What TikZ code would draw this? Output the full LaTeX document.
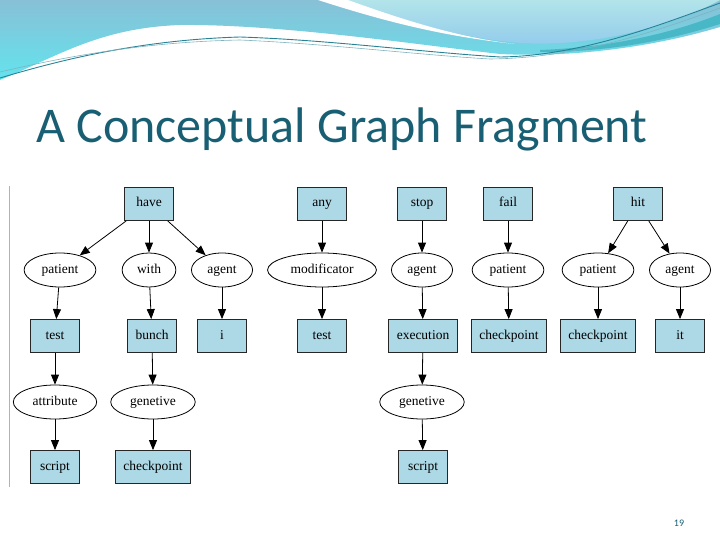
\documentclass[tikz,border=0pt]{standalone}
\usepackage{fontspec}
\setmainfont{Liberation Serif}
\newfontfamily\titlefont{Carlito}
\usetikzlibrary{arrows.meta,shapes.geometric}
\definecolor{mTitle}{RGB}{25,95,115}
\definecolor{mBox}{RGB}{173,216,230}
\definecolor{mWaveTop}{RGB}{136,192,214}
\definecolor{mWaveBot}{RGB}{98,228,238}
\definecolor{mLensTop}{RGB}{178,228,234}
\definecolor{mLensBot}{RGB}{145,202,236}
\definecolor{mLine}{RGB}{40,130,150}
\tikzset{
    concept/.style={draw=black!85, fill=mBox, line width=0.8pt, inner xsep=8pt,
        minimum width=49pt, minimum height=33pt, text height=9pt, text depth=3pt,
        font=\fontsize{13.5}{15}\selectfont},
    relation/.style={ellipse, draw=black, fill=white, line width=0.8pt, inner xsep=7pt,
        minimum height=34pt, text height=9pt, text depth=3pt,
        font=\fontsize{13.5}{15}\selectfont},
    arc/.style={-{Triangle[length=10pt,width=8pt]}, line width=0.8pt, black}
}

\begin{document}
\begin{tikzpicture}[x=1pt, y=-1pt]
    \useasboundingbox (0,0) rectangle (720,540);
    % header wave
    \shade[top color=mWaveTop, bottom color=mWaveBot]
        (0,0) -- (0,80) .. controls (60,55) and (100,28) .. (180,25)
        .. controls (280,24) and (420,45) .. (500,54)
        .. controls (580,58) and (660,45) .. (720,27) -- (720,0) -- cycle;
    \shade[top color=mLensTop, bottom color=mLensBot]
        (345,0) .. controls (400,20) and (460,38) .. (520,43)
        .. controls (600,48) and (680,22) .. (720,0) -- cycle;
    \fill[white] (318,0) .. controls (380,20) and (440,36) .. (515,44)
        .. controls (455,37) and (398,18) .. (348,0) -- cycle;
    \fill[mLine!45!mWaveBot] (540,50) .. controls (620,47) and (680,30) .. (720,14)
        -- (720,24) .. controls (670,40) and (610,52) .. (540,52) -- cycle;
    \draw[mLine, line width=0.9pt]
        (0,78) .. controls (60,60) and (140,40) .. (240,37)
        .. controls (330,40) and (420,52) .. (500,57)
        .. controls (580,56) and (660,25) .. (720,3);
    \draw[mLine!60, line width=0.6pt]
        (0,72) .. controls (60,58) and (140,42) .. (240,40)
        .. controls (330,44) and (420,55) .. (490,59)
        .. controls (580,58) and (660,30) .. (720,8);
    % title and page number
    \node[anchor=base west, inner sep=0pt, text=mTitle, font=\titlefont\fontsize{50}{54}\selectfont]
        (title) at (36,143) {A Conceptual Graph Fragment};
    \node[text=mTitle, font=\titlefont\fontsize{10}{12}\selectfont] (page) at (679,523) {19};
    % frame of the graph image
    \draw[black!30, line width=0.8pt] (9,186) -- (9,487);
    % concepts, first row
    \node[concept] (have) at (149,204) {have};
    \node[concept] (any)  at (322,204) {any};
    \node[concept] (stop) at (422,204) {stop};
    \node[concept] (fail) at (508,204) {fail};
    \node[concept] (hit)  at (638,204) {hit};
    % relations
    \node[relation] (patA) at (60,270)  {patient};
    \node[relation] (with) at (149,270) {with};
    \node[relation] (agA)  at (222,270) {agent};
    \node[relation] (mod)  at (322,270) {modificator};
    \node[relation] (agB)  at (422,270) {agent};
    \node[relation] (patB) at (508,270) {patient};
    \node[relation] (patC) at (598,270) {patient};
    \node[relation] (agC)  at (680,270) {agent};
    % concepts, third row
    \node[concept] (testA) at (55,336)  {test};
    \node[concept] (bunch) at (152,336) {bunch};
    \node[concept] (iota)  at (222,336) {i};
    \node[concept] (testB) at (322,336) {test};
    \node[concept] (exec)  at (423,336) {execution};
    \node[concept] (ckA)   at (509,336) {checkpoint};
    \node[concept] (ckB)   at (598,336) {checkpoint};
    \node[concept] (it)    at (680,336) {it};
    % lower part
    \node[relation] (attr) at (55,402)  {attribute};
    \node[relation] (genA) at (153,402) {genetive};
    \node[relation] (genB) at (422,402) {genetive};
    \node[concept] (scriptA) at (55,467)  {script};
    \node[concept] (ckC)     at (153,467) {checkpoint};
    \node[concept] (scriptB) at (423,467) {script};
    % arcs
    \draw[arc] (have) -- (patA);
    \draw[arc] (have) -- (with);
    \draw[arc] (have) -- (agA);
    \draw[arc] (any) -- (mod);
    \draw[arc] (stop) -- (agB);
    \draw[arc] (fail) -- (patB);
    \draw[arc] (hit) -- (patC);
    \draw[arc] (hit) -- (agC);
    \draw[arc] (patA) -- (testA);
    \draw[arc] (with) -- (bunch);
    \draw[arc] (agA) -- (iota);
    \draw[arc] (mod) -- (testB);
    \draw[arc] (agB) -- (exec);
    \draw[arc] (patB) -- (ckA);
    \draw[arc] (patC) -- (ckB);
    \draw[arc] (agC) -- (it);
    \draw[arc] (testA) -- (attr);
    \draw[arc] (bunch) -- (genA);
    \draw[arc] (exec) -- (genB);
    \draw[arc] (attr) -- (scriptA);
    \draw[arc] (genA) -- (ckC);
    \draw[arc] (genB) -- (scriptB);
\end{tikzpicture}
\end{document}
